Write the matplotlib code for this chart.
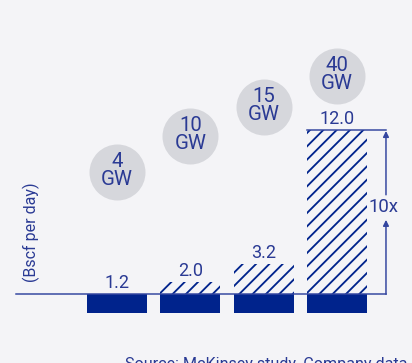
import matplotlib
matplotlib.use("Agg")
import matplotlib.pyplot as plt

# gas demand per data-centre build-out step (Bscf per day)
capacity_gw = [4, 10, 15, 40]
demand = [1.2, 2.0, 3.2, 12.0]
base_demand = 1.2
growth_label = "10x"
unit_label = "(Bscf per day)"
source_label = "Source: McKinsey study, Company data"

BG = "#F4F4F7"
NAVY = "#00238C"
TEXT = "#2A3A94"
LINE = "#3446A0"
BUBBLE = "#D6D7DC"

plt.rcParams["font.family"] = ["Roboto", "DejaVu Sans"]
plt.rcParams["hatch.color"] = NAVY
plt.rcParams["hatch.linewidth"] = 1.1

DPI = 120
fig = plt.figure(figsize=(412 / DPI, 363 / DPI), dpi=DPI, facecolor=BG)
ax = fig.add_axes([0, 0, 1, 1])
ax.set_facecolor(BG)
ax.set_xlim(-1.596, 4.025)
ax.set_ylim(-3.32, 20.57)
ax.axis("off")

x = list(range(len(demand)))
width = 0.82

# solid base part below the axis line
ax.bar(x, [base_demand] * len(x), width=width, bottom=0, color=NAVY, zorder=2)

# hatched growth above the base line
for xi, v in zip(x, demand):
    if v > base_demand:
        ax.bar(xi, v - base_demand, width=width, bottom=base_demand,
               facecolor="none", edgecolor=NAVY, hatch="///", linewidth=0, zorder=2)
    ax.annotate(f"{v:.1f}", (xi, v), xytext=(0, 1.2), textcoords="offset points",
                ha="center", va="bottom", fontsize=10.8, color=TEXT)

arrow_x = 3.67
ax.plot([-1.38, arrow_x], [base_demand, base_demand], color=LINE, lw=0.9, zorder=3)
ax.plot([x[-1] - width / 2, arrow_x], [demand[-1], demand[-1]], color=LINE, lw=0.9, zorder=3)

# capacity bubbles
bubble_y = [9.25, 11.62, 13.52, 15.57]
ax.scatter(x, bubble_y, s=(56 * 72 / DPI) ** 2, color=BUBBLE, linewidths=0, zorder=1)
for xi, yi, gw in zip(x, bubble_y, capacity_gw):
    ax.text(xi, yi + 0.1, f"{gw}\nGW", ha="center", va="center", fontsize=12.2,
            color=TEXT, linespacing=0.9)

# growth arrow split around its label
label_y = 6.95
arrow_kw = dict(arrowstyle="-|>", color=LINE, lw=0.9, mutation_scale=7,
                shrinkA=0, shrinkB=0)
ax.annotate("", xy=(arrow_x, 6.1), xytext=(arrow_x, base_demand), arrowprops=arrow_kw)
ax.annotate("", xy=(arrow_x, demand[-1] - 0.05), xytext=(arrow_x, 7.75), arrowprops=arrow_kw)
ax.text(arrow_x - 0.04, label_y, growth_label, ha="center", va="center",
        fontsize=11.2, color=TEXT)

fig.text(31 / 412, 1 - 232 / 363, unit_label, rotation=90, ha="center", va="center",
         fontsize=9.6, color=TEXT)
fig.text(407 / 412, -6 / 363, source_label, ha="right", va="baseline",
         fontsize=9.7, color=TEXT)

fig.savefig("out.png", dpi=DPI, facecolor=BG)
